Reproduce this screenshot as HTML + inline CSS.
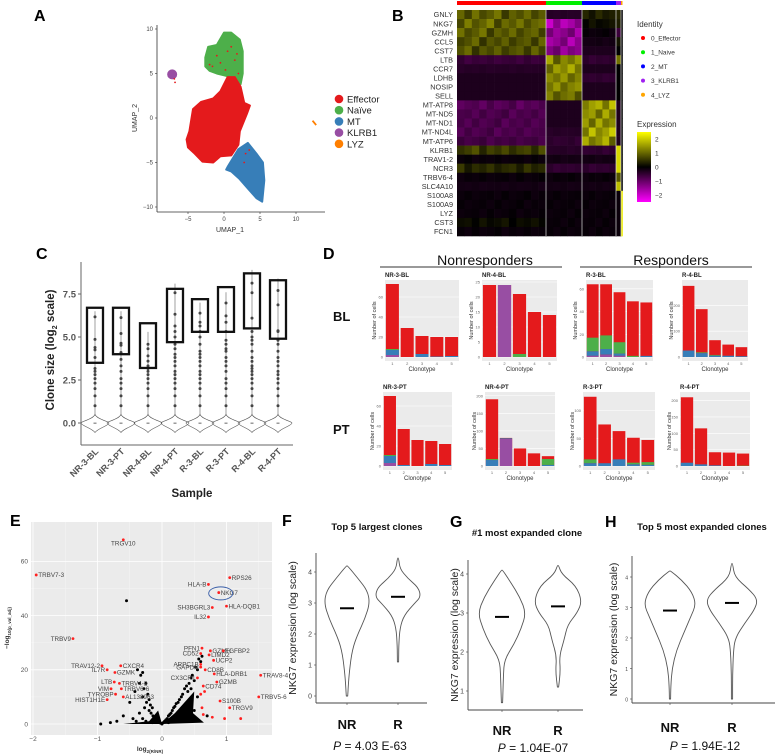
<!DOCTYPE html>
<html><head><meta charset="utf-8">
<style>
html,body{margin:0;padding:0;background:#fff;}
svg{display:block;font-family:"Liberation Sans",Arial,sans-serif;}
</style></head>
<body>
<svg id="fig" width="779" height="755" viewBox="0 0 779 755" xmlns="http://www.w3.org/2000/svg">
<rect x="0" y="0" width="779" height="755" fill="#fff"/>
<text x="34" y="21" font-size="16" font-weight="bold">A</text>
<text x="392" y="21" font-size="16" font-weight="bold">B</text>
<text x="36" y="259" font-size="16" font-weight="bold">C</text>
<text x="323" y="259" font-size="16" font-weight="bold">D</text>
<text x="10" y="526" font-size="16" font-weight="bold">E</text>
<text x="282" y="526" font-size="16" font-weight="bold">F</text>
<text x="450" y="527" font-size="16" font-weight="bold">G</text>
<text x="605" y="527" font-size="16" font-weight="bold">H</text>
</svg>
<script>
// ---------- DATA ----------
const umapClusters = ["Effector","Naïve","MT","KLRB1","LYZ"];
const clusterColors = ["#e41a1c","#4daf4a","#377eb8","#984ea3","#ff7f00"];
const umapTicksX = [-5,0,5,10];
const umapTicksY = [-10,-5,0,5,10];
const greenBlobX = [-2.6,-2.2,-1,0,1,2.2,2.6,2.6,2.3,1.8,1,0,-1,-2,-2.6];
const greenBlobY = [6.8,8,8.2,9.6,9.6,8.8,7.5,5,3.8,3.8,4.6,4.8,5,5.3,5.8];
const redBlobX = [-5.2,-5,-4.2,-3,-1.5,-0.5,1,2,2.2,3.2,3.6,2.8,2.3,1.5,0.5,-0.5,-1.5,-3.2,-4.3,-4.8];
const redBlobY = [-2.4,-3.3,-3.9,-4.9,-5,-4.3,-4.2,-3,-1.5,0.5,1.4,1.7,3.5,4.6,4.6,3,2.2,1.8,1,-1.5];
const blueBlobX = [0.5,2,3.3,4.5,5.4,5.6,5.3,4.5,3.4,2.1,1,0.3];
const blueBlobY = [-5.5,-3.5,-2.8,-4,-5,-7,-9.4,-9,-8,-6.8,-6,-5.8];
const speckX = [-2,-1,0.5,1.5,2,-0.5,1,0.2,-1.6,1.8,2.5,1.2,-6.8,-6.9,3,3.5,2.8];
const speckY = [6,7,7.5,6.5,5,6.2,8,5.4,5.8,7.2,1.5,3.2,4,4.4,-4,-3.6,-5];

const hmGenes = ["GNLY","NKG7","GZMH","CCL5","CST7","LTB","CCR7","LDHB","NOSIP","SELL","MT-ATP8","MT-ND5","MT-ND1","MT-ND4L","MT-ATP6","KLRB1","TRAV1-2","NCR3","TRBV6-4","SLC4A10","S100A8","S100A9","LYZ","CST3","FCN1"];
const hmClusters = ["0_Effector","1_Naive","2_MT","3_KLRB1","4_LYZ"];
const hmValues = [
 [0.9,-0.4,0.3,0.4,0],[1.0,-1.8,0.1,0.3,0],[0.9,-1.5,-0.1,-0.6,0],[0.8,-1.6,-0.2,0.2,0],[0.8,-1.4,-0.3,0,0],
 [-0.6,1.3,-0.5,1.2,0],[-0.4,1.5,-0.3,0,0],[-0.3,1.3,-0.5,0,0],[-0.3,1.3,-0.3,0,0],[-0.3,1.1,-0.3,0,0],
 [-0.9,-0.3,1.6,-0.3,0],[-0.8,-0.3,1.4,-0.3,0],[-0.8,-0.3,1.4,-0.3,0],[-0.8,-0.4,1.6,-0.3,0],[-0.7,-0.5,1.4,-0.3,0],
 [0.6,-0.4,-0.5,2.3,0],[-0.1,-0.2,-0.2,2.3,0],[0.4,-0.5,-0.5,2.3,0],[-0.1,-0.1,-0.1,0.9,0],[-0.2,-0.2,-0.2,2.0,0],
 [-0.1,-0.1,-0.1,-0.1,2.5],[-0.1,-0.1,-0.1,-0.1,2.5],[-0.1,-0.1,-0.1,-0.1,2.5],[0.1,-0.1,-0.1,-0.1,2.5],[-0.1,-0.1,-0.1,-0.1,2.5]];
const hmClusterColors = ["#ff0000","#00ee00","#0000ff","#a020f0","#ffa500"];
const hmLegendTicks = [2,1,0,-1,-2];

const cSamples = ["NR-3-BL","NR-3-PT","NR-4-BL","NR-4-PT","R-3-BL","R-3-PT","R-4-BL","R-4-PT"];
const cBoxTop = [6.7,6.7,5.8,7.8,7.2,7.9,8.7,8.3];
const cBoxBottom = [3.5,4.0,3.2,4.7,5.3,5.3,5.5,4.9];
const cWhiskerTop = [6.5,6.5,5.3,8.1,7.0,7.6,8.9,8.4];
const cTicks = [0,2.5,5,7.5];
const cDots = [
 [1,1.58,2,2.32,2.58,2.81,3,3.17,3.81,4.25,4.39,4.86,6.17],
 [1,1.58,2,2.32,2.58,3,3.32,3.7,4.1,4.52,4.64,5.2,6.13],
 [1,1.58,2,2.32,2.58,2.81,3,3.17,3.32,3.6,3.9,4.32,4.58],
 [1,1.58,2,2.32,2.58,2.81,3,3.32,3.58,3.81,4,4.32,4.58,5,5.32,5.64,6.32,7.57],
 [1,1.58,2,2.32,2.58,2.81,3,3.32,3.58,3.81,4,4.17,4.58,5,5.32,5.64,5.86,6.39],
 [1,1.58,2,2.32,2.58,3,3.32,3.58,3.81,4.17,4.32,4.58,4.81,5.32,5.86,6.23,6.98],
 [1,1.58,2,2.32,2.58,2.81,3,3.17,3.32,3.58,3.81,4.17,4.58,4.81,5,5.32,6.1,7.57,8.13],
 [1,1.58,2,2.32,2.58,2.81,3,3.32,3.58,3.81,4.17,4.58,4.81,5.32,5.36,6.87,7.7]];

const dSamples = ["NR-3-BL","NR-4-BL","R-3-BL","R-4-BL","NR-3-PT","NR-4-PT","R-3-PT","R-4-PT"];
const dTotal = [[73,29,21,20,20],[24,24,21,15,14],[64,64,57,49,48],[275,185,65,48,38],[70,37,26,25,22],[190,80,50,36,28],[125,75,63,51,47],[210,115,42,41,38]];
const dPurple = [[2,0,0,0,0],[0,24,0,0,0],[1,2,1,0,0],[0,0,0,0,0],[3,0,0,0,0],[0,77,0,0,0],[0,0,0,0,0],[0,0,0,0,0]];
const dBlue = [[5,0,3,0.5,1],[0,0,0,0,0],[4,5,2,0,1],[25,15,5,5,3],[7,1,0,2,1],[17,2,0,0,3],[5,5,12,3,2],[10,5,2,0,0]];
const dGreen = [[1,0,0,0,0],[0,0,1,0,0],[12,12,10,1,0],[0,3,3,0,0],[1,0,0,0,0],[3,0,0,0,17],[7,0,0,3,5],[0,0,0,0,1]];
const dTicks = [[0,20,40,60],[0,5,10,15,20,25],[0,20,40,60],[0,100,200],[0,20,40,60],[0,50,100,150,200],[0,50,100],[0,50,100,150,200]];
const dMax = [75,25,66,290,72,205,130,220];

const eBlackX = [-0.95,-0.55,-0.5,-0.42,-0.38,-0.35,-0.33,-0.3,-0.3,-0.28,-0.27,-0.25,-0.24,-0.22,-0.2,-0.2,-0.18,-0.17,-0.15,-0.14,-0.12,-0.1,-0.09,-0.08,-0.06,-0.05,-0.04,-0.02,0,0.02,0.04,0.06,0.08,0.1,0.12,0.14,0.16,0.18,0.2,0.22,0.25,0.27,0.3,0.32,0.35,0.38,0.4,0.42,0.45,0.47,0.5,0.52,0.55,0.57,0.6,0.62,-0.6,-0.7,-0.4,-0.3,0.3,0.5,0.7,-0.8,0.45,0.55,-0.25,-0.15,0.1,0.2,0.35,0.25,-0.35,-0.45,0.15,0.4];
const eBlackY = [0,45.5,8,12,20,15,18,19,10,13,6,15,8,11,5,9,7,4,6,3,2.5,2,3,1.5,1,1,0.5,0.3,0,0.5,1,1.5,2,3,3.5,4,5,6,6.5,7.5,8,9,10,11,13,14,12,15,13,18,16,21,20,24,23,25,3,1,1,2,2,5,3,0.5,17,10,1,0.5,0.5,1,2,4,4,2,2,6];
const eRedLabels = ["TRGV10","TRBV7-3","RPS26","HLA-B","NKG7","HLA-DQB1","SH3BGRL3","IL32","TRBV9","PFN1","GZMH","FGFBP2","CD52","LIMD2","UCP2","ARPC1B","GAPDH","CD8B","TRAV8-4","HLA-DRB1","CX3CR1","GZMB","CD74","TRBV5-6","S100B","TRGV9","TRAV12-2","CXCR4","IL7R","GZMK","LTB","TRBV4-2","VIM","TRBV6-6","TYROBP","AL138963","HIST1H1E"];
const eRedX = [-0.6,-1.95,1.05,0.72,0.88,1.0,0.78,0.72,-1.38,0.62,0.75,0.95,0.6,0.73,0.8,0.6,0.6,0.67,1.53,0.81,0.55,0.85,0.64,1.5,0.9,1.05,-0.93,-0.64,-0.85,-0.73,-0.74,-0.66,-0.79,-0.63,-0.72,-0.6,-0.85];
const eRedY = [68,55,54,51.5,48.5,43.5,43,39.5,31.5,28,27,27,26,25.5,23.5,22,21,20,18,18.5,17,15.5,14,10,8.5,6,21.5,21.5,20,19,15.5,15,13,13,11,10,9];
const eExtraRedX = [0.62,0.64,0.78,0.97,1.22,0.6,0.66];
const eExtraRedY = [6,3.5,2.5,2,2,11,12];
const eTicksX = [-2,-1,0,1];
const eTicksY = [0,20,40,60];

const vTitles = ["Top 5 largest clones","#1 most expanded clone","Top 5 most expanded clones"];
const vPvals = ["4.03 E-63","1.04E-07","1.94E-12"];
const vMeansNR = [2.83,2.9,2.9];
const vMeansR = [3.2,3.17,3.15];
const vNRy = [[0,0.3,0.8,1.5,2.0,2.5,3.0,3.4,3.8,4.2],[0.7,1.0,1.4,1.8,2.2,2.6,3.0,3.4,3.8,4.1],[0,0.4,1.0,1.6,2.2,2.7,3.1,3.5,3.9,4.2]];
const vNRw = [[0.03,0.05,0.1,0.22,0.45,0.75,0.95,0.85,0.45,0],[0,0.04,0.06,0.1,0.5,0.8,1.0,0.75,0.35,0],[0,0.03,0.08,0.25,0.55,0.8,1.0,0.85,0.45,0]];
const vRy = [[1.1,1.6,2.2,2.6,3.0,3.2,3.5,3.8,4.1,4.45],[1.1,1.5,1.9,2.3,2.7,3.0,3.3,3.7,4.0,4.22],[0,0.8,1.5,2.0,2.5,2.9,3.25,3.6,4.0,4.45]];
const vRw = [[0,0.03,0.08,0.25,0.7,0.95,0.85,0.4,0.08,0],[0,0.1,0.06,0.25,0.4,0.8,1.0,0.75,0.15,0],[0,0.02,0.05,0.12,0.5,0.85,1.0,0.65,0.1,0]];
const vTicks = [[0,1,2,3,4],[1,2,3,4],[0,1,2,3,4]];

// ---------- HELPERS ----------
const NS = "http://www.w3.org/2000/svg";
const svg = document.getElementById('fig');
function mk(tag, attrs, name, parent){
  const el = document.createElementNS(NS, tag);
  for (const k in attrs) el.setAttribute(k, attrs[k]);
  
  
  (parent || svg).appendChild(el);
  return el;
}
function txt(x, y, s, attrs, name, parent){
  const a = Object.assign({x: x, y: y}, attrs || {});
  const t = mk('text', a, name, parent);
  t.textContent = s;
  return t;
}
function poly(xs, ys, fx, fy){
  return xs.map((v,i)=>fx(v).toFixed(1)+","+fy(ys[i]).toFixed(1)).join(" ");
}

// ---------- PANEL A ----------
(function(){
  const ax = v => 224 + v*7.2, ay = v => 118 - v*8.9;
  mk('line',{x1:157,y1:25,x2:157,y2:212,stroke:'#333','stroke-width':0.8},'umap-y-axis');
  mk('line',{x1:157,y1:212,x2:325,y2:212,stroke:'#333','stroke-width':0.8},'umap-x-axis');
  umapTicksX.forEach(t=>{
    mk('line',{x1:ax(t),y1:212,x2:ax(t),y2:214,stroke:'#333','stroke-width':0.6},'umap-x-tick');
    txt(ax(t),221,String(t).replace('-','−'),{'font-size':6,'text-anchor':'middle',fill:'#444'},'umap-x-tick-label');
  });
  umapTicksY.forEach(t=>{
    mk('line',{x1:155,y1:ay(t),x2:157,y2:ay(t),stroke:'#333','stroke-width':0.6},'umap-y-tick');
    txt(153,ay(t)+2,String(t).replace('-','−'),{'font-size':6,'text-anchor':'end',fill:'#444'},'umap-y-tick-label');
  });
  txt(230,232,'UMAP_1',{'font-size':7,'text-anchor':'middle',fill:'#333'},'umap-x-title');
  txt(137,118,'UMAP_2',{'font-size':7,'text-anchor':'middle',fill:'#333',transform:'rotate(-90 137 118)'},'umap-y-title');
  mk('polygon',{points:poly(greenBlobX,greenBlobY,ax,ay),fill:clusterColors[1],stroke:clusterColors[1],'stroke-width':2,'stroke-linejoin':'round'},'naive-cluster');
  mk('polygon',{points:poly(redBlobX,redBlobY,ax,ay),fill:clusterColors[0],stroke:clusterColors[0],'stroke-width':2,'stroke-linejoin':'round'},'effector-cluster');
  mk('polygon',{points:poly(blueBlobX,blueBlobY,ax,ay),fill:clusterColors[2],stroke:clusterColors[2],'stroke-width':2,'stroke-linejoin':'round'},'mt-cluster');
  mk('circle',{cx:ax(-7.2),cy:ay(4.9),r:5,fill:clusterColors[3]},'klrb1-cluster');
  mk('line',{x1:ax(12.3),y1:ay(-0.3),x2:ax(12.8),y2:ay(-0.8),stroke:clusterColors[4],'stroke-width':1.8},'lyz-cluster');
  speckX.forEach((v,i)=>{
    mk('circle',{cx:ax(v),cy:ay(speckY[i]),r:0.9,fill:clusterColors[0]},'umap-cell-point');
  });
  umapClusters.forEach((c,i)=>{
    mk('circle',{cx:339,cy:99+i*11.2,r:4.3,fill:clusterColors[i]},'legend-dot-'+c.toLowerCase());
    txt(347,102.5+i*11.2,c,{'font-size':9.5,fill:'#222'},'legend-entry-'+c.toLowerCase());
  });
})();

// ---------- PANEL B ----------
(function(){
  const x0=457, x1=622, y0=10, y1=236;
  const bounds=[457,546,582,616,621,622.5];
  const rh=(y1-y0)/hmGenes.length;
  const tex=[0.15,-0.2,0.25,-0.1,0.05,0.3,-0.25,0.1,-0.05,0.2,-0.15,0.05];
  function col(v){
    v=Math.max(-2.5,Math.min(2.5,v));
    if(v>=0){const k=v/2.5; return `rgb(${Math.round(235*k)},${Math.round(235*k)},0)`;}
    const k=-v/2.5; return `rgb(${Math.round(240*k)},0,${Math.round(240*k)})`;
  }
  hmClusters.forEach((c,j)=>{
    mk('rect',{x:bounds[j],y:1,width:bounds[j+1]-bounds[j],height:4,fill:hmClusterColors[j]},'identity-bar-'+c);
  });
  hmGenes.forEach((g,i)=>{
    txt(453,y0+rh*i+rh/2+2.7,g,{'font-size':7.3,'text-anchor':'end',fill:'#333'},'gene-label-'+g.toLowerCase());
    hmClusters.forEach((c,j)=>{
      const w=bounds[j+1]-bounds[j];
      const n=j===0?12:(j<3?5:1);
      for(let s=0;s<n;s++){
        const v=hmValues[i][j]+(n>1?tex[(s+i)%tex.length]*Math.abs(hmValues[i][j]+0.3):0);
        mk('rect',{x:bounds[j]+w*s/n,y:y0+rh*i,width:w/n+0.3,height:rh+0.3,fill:col(v)},'heatmap-cell');
      }
    });
  });
  [546,582,616,621].forEach(x=>mk('line',{x1:x,y1:y0,x2:x,y2:y1,stroke:'#ddd','stroke-width':0.7},'cluster-divider'));
  txt(637,27,'Identity',{'font-size':8,fill:'#333'},'identity-legend-title');
  hmClusters.forEach((c,j)=>{
    mk('circle',{cx:643,cy:38+j*14.2,r:2,fill:hmClusterColors[j]},'identity-legend-dot');
    txt(651,40.5+j*14.2,c,{'font-size':6.5,fill:'#333'},'identity-legend-entry');
  });
  txt(637,127,'Expression',{'font-size':8,fill:'#333'},'expression-legend-title');
  const defs=mk('defs',{},'defs');
  const lg=mk('linearGradient',{id:'expg',x1:0,y1:0,x2:0,y2:1},'expression-gradient',defs);
  [['0','#ffff00'],['0.5','#000'],['1','#ff00ff']].forEach(s=>mk('stop',{offset:s[0],'stop-color':s[1]},'gradient-stop',lg));
  mk('rect',{x:637,y:132,width:14,height:70,fill:'url(#expg)'},'expression-colorbar');
  hmLegendTicks.forEach(t=>{
    const y=167-t*14;
    txt(655,y+2.5,String(t).replace('-','−'),{'font-size':6.5,fill:'#333'},'expression-tick-label');
  });
})();

// ---------- PANEL C ----------
(function(){
  const cy=v=>423-v*17.2;
  const cx=[95,121,148,175,200,226,252,278];
  mk('line',{x1:81,y1:262,x2:81,y2:445,stroke:'#666','stroke-width':1},'c-y-axis');
  mk('line',{x1:81,y1:445,x2:293,y2:445,stroke:'#666','stroke-width':1},'c-x-axis');
  cTicks.forEach(t=>{
    mk('line',{x1:78,y1:cy(t),x2:81,y2:cy(t),stroke:'#666'},'c-y-tick');
    txt(76,cy(t)+3.5,t.toFixed(1),{'font-size':9.5,'font-weight':'bold','text-anchor':'end',fill:'#555'},'c-y-tick-label');
  });
  const yt=mk('text',{x:54,y:350,'font-size':11.5,'font-weight':'bold','text-anchor':'middle',fill:'#222',transform:'rotate(-90 54 350)'},'c-y-title');
  yt.innerHTML='Clone size (log<tspan font-size="7" dy="3">2</tspan><tspan dy="-3"> scale)</tspan>';
  txt(192,497,'Sample',{'font-size':11.5,'font-weight':'bold','text-anchor':'middle',fill:'#222'},'c-x-title');
  cSamples.forEach((s,i)=>{
    const x=cx[i];
    mk('path',{d:`M${x},${cy(0.5)} C${x+2},${cy(0.2)} ${x+14},${cy(0.1)} ${x+14},${cy(0)} C${x+14},${cy(-0.15)} ${x+3},${cy(-0.3)} ${x},${cy(-0.55)} C${x-3},${cy(-0.3)} ${x-14},${cy(-0.15)} ${x-14},${cy(0)} C${x-14},${cy(0.1)} ${x-2},${cy(0.2)} ${x},${cy(0.5)} Z`,fill:'none',stroke:'#555','stroke-width':0.6},'violin-'+s.toLowerCase());
    mk('line',{x1:x,y1:cy(0.5),x2:x,y2:cy(cWhiskerTop[i]),stroke:'#777','stroke-width':0.7},'whisker-'+s.toLowerCase());
    mk('rect',{x:x-1.5,y:cy(0.02),width:3,height:1,fill:'#666'},'median-mark');
    cDots[i].forEach(v=>mk('circle',{cx:x,cy:cy(v),r:1.5,fill:'#444'},'clone-dot'));
    mk('rect',{x:x-8,y:cy(cBoxTop[i]),width:16,height:cy(cBoxBottom[i])-cy(cBoxTop[i]),fill:'none',stroke:'#111','stroke-width':2.3},'box-'+s.toLowerCase());
    txt(x+4,452,s,{'font-size':9,'font-weight':'bold','text-anchor':'end',fill:'#555',transform:`rotate(-45 ${x+4} 452)`},'c-x-tick-label');
  });
})();

// ---------- PANEL D ----------
(function(){
  txt(485,265,'Nonresponders',{'font-size':14,'text-anchor':'middle',fill:'#111'},'nonresponders-header');
  mk('line',{x1:380,y1:267,x2:562,y2:267,stroke:'#333','stroke-width':1},'nonresponders-underline');
  txt(671,265,'Responders',{'font-size':14,'text-anchor':'middle',fill:'#111'},'responders-header');
  mk('line',{x1:580,y1:267,x2:752,y2:267,stroke:'#333','stroke-width':1},'responders-underline');
  txt(333,321,'BL',{'font-size':13,'font-weight':'bold',fill:'#111'},'bl-row-label');
  txt(333,434,'PT',{'font-size':13,'font-weight':'bold',fill:'#111'},'pt-row-label');
  const px0=[385,482,586,682,383,485,583,680];
  const px1=[459,557,653,748,452,555,655,750];
  const py0=[280,280,280,280,392,392,392,392];
  const py1=[361,361,361,361,470,470,470,470];
  dSamples.forEach((s,k)=>{
    const x0=px0[k],x1=px1[k],y0=py0[k],y1=py1[k];
    const base=y1-4, top=y0+2;
    const sy=v=>base-(v/dMax[k])*(base-top);
    const band=(x1-x0)/5;
    const bx=i=>x0+band*i+band*0.06;
    const bw=band*0.88;
    const g=mk('g',{},'bar-chart-'+s.toLowerCase());
    mk('rect',{x:x0,y:y0,width:x1-x0,height:y1-y0,fill:'#ebebeb'},'plot-background',g);
    dTicks[k].forEach(t=>{
      mk('line',{x1:x0,y1:sy(t),x2:x1,y2:sy(t),stroke:'#fff','stroke-width':0.6},'gridline',g);
      txt(x0-2,sy(t)+1.5,String(t),{'font-size':4,'text-anchor':'end',fill:'#666'},'d-y-tick-label',g);
    });
    txt(x0,y0-3,s,{'font-size':6,'font-weight':'bold',fill:'#222'},'d-subplot-title',g);
    dTotal[k].forEach((tot,i)=>{
      const p=dPurple[k][i], b=dBlue[k][i], gr=dGreen[k][i];
      mk('rect',{x:bx(i),y:sy(tot),width:bw,height:sy(0)-sy(tot),fill:'#e41a1c'},'bar-red',g);
      if(gr>0) mk('rect',{x:bx(i),y:sy(p+b+gr),width:bw,height:sy(p+b)-sy(p+b+gr),fill:'#4daf4a'},'bar-green',g);
      if(b>0) mk('rect',{x:bx(i),y:sy(p+b),width:bw,height:sy(p)-sy(p+b),fill:'#377eb8'},'bar-blue',g);
      if(p>0) mk('rect',{x:bx(i),y:sy(p),width:bw,height:sy(0)-sy(p),fill:'#984ea3'},'bar-purple',g);
      txt(bx(i)+bw/2,y1+4,String(i+1),{'font-size':4,'text-anchor':'middle',fill:'#666'},'d-x-tick-label',g);
    });
    txt((x0+x1)/2,y1+10,'Clonotype',{'font-size':6,'text-anchor':'middle',fill:'#333'},'d-x-title',g);
    const tx=x0-9, ty=(y0+y1)/2;
    txt(tx,ty,'Number of cells',{'font-size':5.5,'text-anchor':'middle',fill:'#333',transform:`rotate(-90 ${tx} ${ty})`},'d-y-title',g);
  });
})();

// ---------- PANEL E ----------
(function(){
  const x0=31,x1=272,y0=522,y1=735;
  const ex=v=>162+v*64.5, ey=v=>724-v*2.71;
  mk('rect',{x:x0,y:y0,width:x1-x0,height:y1-y0,fill:'#ebebeb'},'volcano-background');
  [-1.5,-0.5,0.5,1.5].forEach(t=>mk('line',{x1:ex(t),y1:y0,x2:ex(t),y2:y1,stroke:'#f6f6f6','stroke-width':0.4},'minor-gridline'));
  [10,30,50].forEach(t=>mk('line',{x1:x0,y1:ey(t),x2:x1,y2:ey(t),stroke:'#f6f6f6','stroke-width':0.4},'minor-gridline'));
  eTicksX.forEach(t=>{
    mk('line',{x1:ex(t),y1:y0,x2:ex(t),y2:y1,stroke:'#fff','stroke-width':0.8},'x-gridline');
    txt(ex(t),741,String(t).replace('-','−'),{'font-size':6.5,'text-anchor':'middle',fill:'#555'},'e-x-tick-label');
  });
  eTicksY.forEach(t=>{
    mk('line',{x1:x0,y1:ey(t),x2:x1,y2:ey(t),stroke:'#fff','stroke-width':0.8},'y-gridline');
    txt(28,ey(t)+2.3,String(t),{'font-size':6.5,'text-anchor':'end',fill:'#555'},'e-y-tick-label');
  });
  const xt=mk('text',{x:150,y:751,'font-size':6.5,'font-weight':'bold','text-anchor':'middle',fill:'#333'},'e-x-title');
  xt.innerHTML='log<tspan font-size="4.5" dy="2">2(R/NR)</tspan>';
  const yt=mk('text',{x:9,y:628,'font-size':6.5,'font-weight':'bold','text-anchor':'middle',fill:'#333',transform:'rotate(-90 9 628)'},'e-y-title');
  yt.innerHTML='−log<tspan font-size="4.5" dy="2">10(p_val_adj)</tspan>';
  eBlackX.forEach((v,i)=>{ if(i<eBlackY.length) mk('circle',{cx:ex(v),cy:ey(eBlackY[i]),r:1.5,fill:'#000'},'gene-point'); });
  mk('path',{d:`M${ex(-0.6)},${ey(0)} L${ex(-0.2)},${ey(1)} L${ex(-0.06)},${ey(5)} L${ex(0)},${ey(0)} Z`,fill:'#000'},'dense-gene-points-left');
  mk('path',{d:`M${ex(0)},${ey(0)} L${ex(0.2)},${ey(4)} L${ex(0.5)},${ey(12)} L${ex(0.48)},${ey(4)} L${ex(0.65)},${ey(0.5)} Z`,fill:'#000'},'dense-gene-points-right');
  eExtraRedX.forEach((v,i)=>mk('circle',{cx:ex(v),cy:ey(eExtraRedY[i]),r:1.4,fill:'#ff2020'},'significant-gene-point'));
  const leftLbl=['TRBV9','TRAV12-2','IL7R','LTB','VIM','TYROBP','HIST1H1E','PFN1','CD52','ARPC1B','GAPDH','CX3CR1','HLA-B','SH3BGRL3','IL32','TRGV10'];
  eRedLabels.forEach((l,i)=>{
    const x=ex(eRedX[i]), y=ey(eRedY[i]);
    mk('circle',{cx:x,cy:y,r:1.4,fill:'#ff2020'},'significant-gene-point');
    let lx, anchor;
    if(l==='TRGV10'){lx=x;anchor='middle';txt(lx,y+6,l,{'font-size':6.3,'text-anchor':anchor,fill:'#444'},'gene-label');return;}
    if(leftLbl.indexOf(l)>=0){lx=x-2;anchor='end';} else {lx=x+2;anchor='start';}
    txt(lx,y+2.2,l,{'font-size':6.3,'text-anchor':anchor,fill:'#444'},'gene-label');
  });
  mk('ellipse',{cx:ex(0.91),cy:ey(48.2),rx:12,ry:6.5,fill:'none',stroke:'#3a5fa8','stroke-width':0.9},'nkg7-highlight-circle');
})();

// ---------- PANELS F-H ----------
(function(){
  const cfg=[
    {ax:316,axEnd:427,top:553,bottom:703,yf:v=>696-v*31,nr:347,r:398,titleX:377,titleY:530,lblY:729,pY:750,pX:370,ytX:296,hw:24,tickFs:7},
    {ax:468,axEnd:583,top:560,bottom:710,yf:v=>691-(v-1)*39,nr:502,r:558,titleX:527,titleY:536,lblY:735,pY:752,pX:533,ytX:458,hw:24,tickFs:7},
    {ax:632,axEnd:775,top:556,bottom:703,yf:v=>699-v*30.5,nr:670,r:732,titleX:702,titleY:530,lblY:732,pY:750,pX:705,ytX:617,hw:26,tickFs:5}
  ];
  cfg.forEach((c,k)=>{
    const g=mk('g',{},'violin-panel-'+(k+1));
    mk('line',{x1:c.ax,y1:c.top,x2:c.ax,y2:c.bottom,stroke:'#444','stroke-width':0.9},'v-y-axis',g);
    mk('line',{x1:c.ax,y1:c.bottom,x2:c.axEnd,y2:c.bottom,stroke:'#444','stroke-width':0.9},'v-x-axis',g);
    vTicks[k].forEach(t=>{
      mk('line',{x1:c.ax-2,y1:c.yf(t),x2:c.ax,y2:c.yf(t),stroke:'#444','stroke-width':0.6},'v-y-tick',g);
      txt(c.ax-4,c.yf(t)+2.3,String(t),{'font-size':c.tickFs,'text-anchor':'end',fill:'#444'},'v-y-tick-label',g);
    });
    [c.nr,c.r].forEach(x=>mk('line',{x1:x,y1:c.bottom,x2:x,y2:c.bottom+2,stroke:'#444','stroke-width':0.6},'v-x-tick',g));
    txt(c.titleX,c.titleY,vTitles[k],{'font-size':9.5,'font-weight':'bold','text-anchor':'middle',fill:'#111'},'v-title',g);
    const mid=(c.top+c.bottom)/2;
    txt(c.ytX,mid,'NKG7 expression (log scale)',{'font-size':10.5,'text-anchor':'middle',fill:'#222',transform:`rotate(-90 ${c.ytX} ${mid})`},'v-y-title',g);
    function violin(cx,ys,ws,name){
      const right=ys.map((v,i)=>[cx+Math.max(ws[i]*c.hw,0.6),c.yf(v)]);
      const left=ys.map((v,i)=>[cx-Math.max(ws[i]*c.hw,0.6),c.yf(v)]).reverse();
      const pts=right.concat(left);
      let d=`M${pts[0][0].toFixed(1)},${pts[0][1].toFixed(1)}`;
      for(let i=1;i<pts.length;i++){
        const p0=pts[i-1],p1=pts[i];
        const mx=(p0[0]+p1[0])/2,my=(p0[1]+p1[1])/2;
        d+=` Q${p0[0].toFixed(1)},${p0[1].toFixed(1)} ${mx.toFixed(1)},${my.toFixed(1)}`;
      }
      d+=` L${pts[pts.length-1][0].toFixed(1)},${pts[pts.length-1][1].toFixed(1)} Z`;
      mk('path',{d:d,fill:'#fff',stroke:'#555','stroke-width':0.9,'stroke-linejoin':'round'},name,g);
    }
    violin(c.nr,vNRy[k],vNRw[k],'violin-nr');
    violin(c.r,vRy[k],vRw[k],'violin-r');
    mk('line',{x1:c.nr-7,y1:c.yf(vMeansNR[k]),x2:c.nr+7,y2:c.yf(vMeansNR[k]),stroke:'#000','stroke-width':2},'mean-bar-nr',g);
    mk('line',{x1:c.r-7,y1:c.yf(vMeansR[k]),x2:c.r+7,y2:c.yf(vMeansR[k]),stroke:'#000','stroke-width':2},'mean-bar-r',g);
    txt(c.nr,c.lblY,'NR',{'font-size':13,'font-weight':'bold','text-anchor':'middle',fill:'#111'},'group-label-nr',g);
    txt(c.r,c.lblY,'R',{'font-size':13,'font-weight':'bold','text-anchor':'middle',fill:'#111'},'group-label-r',g);
    const pt=mk('text',{x:c.pX,y:c.pY,'font-size':12,'text-anchor':'middle',fill:'#111'},'p-value',g);
    pt.innerHTML='<tspan font-style="italic">P</tspan> = '+vPvals[k];
  });
})();
</script>
</body></html>
